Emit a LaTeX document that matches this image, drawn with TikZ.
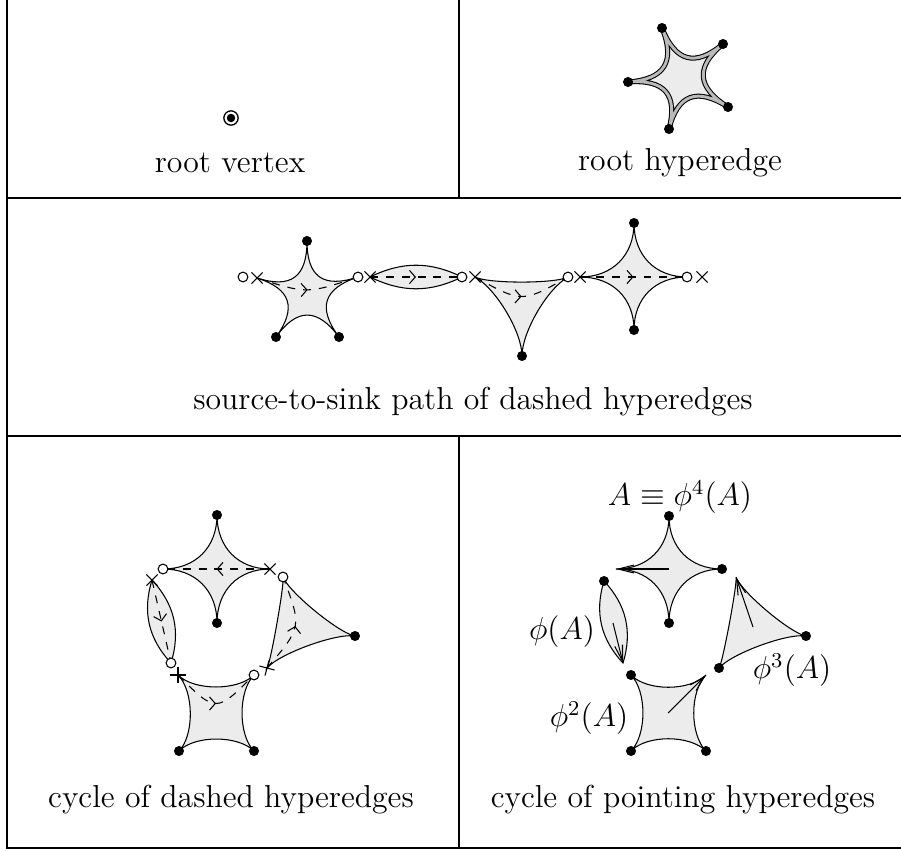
\documentclass[tikz,border=0pt]{standalone}
\usepackage{amsmath}
\usetikzlibrary{arrows.meta,calc,shapes.misc,decorations.markings}

\tikzset{
  hedge/.style={draw, fill=gray!15, line width=0.4pt},
  roothedge/.style={hedge, double=gray!55, double distance=1.1pt},
  cv/.style={to path={.. controls ($(\tikztostart)!#1!(cen)$)
      and ($(\tikztotarget)!#1!(cen)$) .. (\tikztotarget)}},
  cv/.default=0.6,
  vtx/.style={circle, fill=black, inner sep=0pt, minimum size=3.8pt},
  ovtx/.style={circle, draw, fill=white, line width=0.4pt,
    inner sep=0pt, minimum size=3.7pt},
  xmark/.style={cross out, draw, line width=0.4pt, inner sep=0pt,
    minimum size=3.8pt},
  flow/.style={dashed, line width=0.4pt, postaction={decorate},
    decoration={markings, mark=at position 0.5 with
      {\arrow{Straight Barb[length=2.2pt,width=5pt]}}}},
  pointer/.style={line width=0.4pt, -{Straight Barb[length=6pt,width=3pt]}},
  cell/.style={line width=0.8pt},
}

\begin{document}
\begin{tikzpicture}[x=0.378pt, y=-0.378pt, font=\large]
  \useasboundingbox (0,0) rectangle (901,851);

  % table
  \draw[cell] (7,0) -- (7,848) -- (901,848);
  \draw[cell] (7,198) -- (901,198);
  \draw[cell] (7,436) -- (901,436);
  \draw[cell] (459,0) -- (459,198);
  \draw[cell] (459,436) -- (459,848);

  % root vertex
  \node[circle, draw, line width=0.5pt, minimum size=5.4pt, inner sep=0pt]
    (root) at (231,118) {};
  \node[vtx, minimum size=3.2pt] (rootdot) at (root) {};
  \node (rvlab) at (230,163) {root vertex};

  % root hyperedge
  \coordinate (r1) at (662,28);
  \coordinate (r2) at (723,44);
  \coordinate (r3) at (728,107);
  \coordinate (r4) at (669,129);
  \coordinate (r5) at (628,82);
  \coordinate (cen) at (682,78);
  \filldraw[roothedge] (r1) to[cv=0.68] (r2) to[cv=0.68] (r3) to[cv=0.68]
    (r4) to[cv=0.68] (r5) to[cv=0.68] (r1);
  \foreach \v in {r1,r2,r3,r4,r5}
    \node[vtx] (d\v) at (\v) {};
  \node (rhlab) at (680,163) {root hyperedge};

  % source-to-sink path
  \coordinate (s1a) at (257,278);
  \coordinate (s1b) at (307,241);
  \coordinate (s1c) at (358,277);
  \coordinate (s1d) at (339,337);
  \coordinate (s1e) at (276,337);
  \coordinate (cen) at (307,294);
  \filldraw[hedge] (s1a) to[cv=0.68] (s1b) to[cv=0.68] (s1c) to[cv=0.68]
    (s1d) to[cv=0.68] (s1e) to[cv=0.68] (s1a);
  \draw[flow] (s1a) to[cv=1] (s1c);

  \coordinate (s2a) at (370,277);
  \coordinate (s2b) at (462,277);
  \filldraw[hedge] (s2a) to[bend left=26] (s2b) to[bend left=26] (s2a);
  \draw[flow] (s2a) -- (s2b);

  \coordinate (s3a) at (475,277);
  \coordinate (s3b) at (568,277);
  \coordinate (s3c) at (522,356);
  \coordinate (cen) at (522,303);
  \filldraw[hedge] (s3a) to[cv=0.26] (s3b) to[cv=0.45] (s3c) to[cv=0.45] (s3a);
  \draw[flow] (s3a) to[cv=1] (s3b);

  \coordinate (s4a) at (580,277);
  \coordinate (s4b) at (634,223);
  \coordinate (s4c) at (687,277);
  \coordinate (s4d) at (634,330);
  \coordinate (cen) at (634,277);
  \filldraw[hedge] (s4a) to[cv] (s4b) to[cv] (s4c) to[cv] (s4d) to[cv] (s4a);
  \draw[flow] (s4a) -- (s4c);

  \foreach \v in {s1b,s1d,s1e,s3c,s4b,s4d}
    \node[vtx] (d\v) at (\v) {};
  \node[ovtx] (src) at (243,277) {};
  \foreach \v in {s1c,s2b,s3b,s4c}
    \node[ovtx] (o\v) at (\v) {};
  \foreach \v in {s1a,s2a,s3a,s4a}
    \node[xmark] (x\v) at (\v) {};
  \node[xmark] (sink) at (702,277) {};
  \node (pathlab) at (473,402) {source-to-sink path of dashed hyperedges};

  % cycle of dashed hyperedges
  \coordinate (c1a) at (217,515);
  \coordinate (c1b) at (270,569);
  \coordinate (c1c) at (217,623);
  \coordinate (c1d) at (163,569);
  \coordinate (cen) at (217,569);
  \filldraw[hedge] (c1a) to[cv] (c1b) to[cv] (c1c) to[cv] (c1d) to[cv] (c1a);
  \draw[flow] (c1b) -- (c1d);

  \coordinate (c2a) at (152,580);
  \coordinate (c2b) at (171,663);
  \filldraw[hedge] (c2a) to[bend left=30] (c2b) to[bend left=30] (c2a);
  \draw[flow] (c2a) -- (c2b);

  \coordinate (c3a) at (178,675);
  \coordinate (c3b) at (254,675);
  \coordinate (c3c) at (254,751);
  \coordinate (c3d) at (179,751);
  \coordinate (cen) at (216,713);
  \filldraw[hedge] (c3a) to[cv=0.42] (c3b) to[cv=0.42] (c3c) to[cv=0.42]
    (c3d) to[cv=0.42] (c3a);
  \draw[flow] (c3a) to[cv=1] (c3b);

  \coordinate (c4a) at (283,577);
  \coordinate (c4b) at (355,636);
  \coordinate (c4c) at (267,668);
  \coordinate (cen) at (302,627);
  \filldraw[hedge] (c4a) to[cv=0.3] (c4b) to[cv=0.35] (c4c) to[cv=0.1] (c4a);
  \draw[flow] (c4c) to[cv=1] (c4a);

  \foreach \v in {c1a,c1c,c3c,c3d,c4b}
    \node[vtx] (d\v) at (\v) {};
  \foreach \v in {c1d,c2b,c3b,c4a}
    \node[ovtx] (o\v) at (\v) {};
  \node[xmark] (xc1b) at (c1b) {};
  \node[xmark] (xc2a) at (c2a) {};
  \node[xmark, rotate=45] (xc3a) at (c3a) {};
  \node[xmark, rotate=30] (xc4c) at (c4c) {};
  \node (cyclab) at (231,800) {cycle of dashed hyperedges};

  % cycle of pointing hyperedges
  \coordinate (p1a) at (669,516);
  \coordinate (p1b) at (722,569);
  \coordinate (p1c) at (669,623);
  \coordinate (p1d) at (616,569);
  \coordinate (cen) at (669,569);
  \coordinate (p1m) at (669,569);
  \filldraw[hedge] (p1a) to[cv] (p1b) to[cv] (p1c) to[cv] (p1d) to[cv] (p1a);
  \draw[pointer] (p1m) -- (p1d);

  \coordinate (p2a) at (604,581);
  \coordinate (p2b) at (623,663);
  \coordinate (p2m) at (613,623);
  \filldraw[hedge] (p2a) to[bend left=30] (p2b) to[bend left=30] (p2a);
  \draw[pointer] (p2m) -- (p2b);

  \coordinate (p3a) at (631,675);
  \coordinate (p3b) at (706,675);
  \coordinate (p3c) at (706,751);
  \coordinate (p3d) at (631,751);
  \coordinate (cen) at (668,713);
  \coordinate (p3m) at (668,713);
  \filldraw[hedge] (p3a) to[cv=0.43] (p3b) to[cv=0.43] (p3c) to[cv=0.43]
    (p3d) to[cv=0.43] (p3a);
  \draw[pointer] (p3m) -- (p3b);

  \coordinate (p4a) at (736,577);
  \coordinate (p4b) at (806,636);
  \coordinate (p4c) at (719,668);
  \coordinate (cen) at (754,627);
  \coordinate (p4m) at (753,627);
  \filldraw[hedge] (p4a) to[cv=0.3] (p4b) to[cv=0.35] (p4c) to[cv=0.1] (p4a);
  \draw[pointer] (p4m) -- (p4a);

  \foreach \v in {p1a,p1b,p1c,p2a,p3a,p3c,p3d,p4b,p4c}
    \node[vtx] (d\v) at (\v) {};
  \node (lab4) at (680,497) {$A\equiv\phi^4(A)$};
  \node (lab1) at (562,632) {$\phi(A)$};
  \node (lab3) at (792,670) {$\phi^3(A)$};
  \node (lab2) at (589,718) {$\phi^2(A)$};
  \node (poinlab) at (683,800) {cycle of pointing hyperedges};
\end{tikzpicture}
\end{document}
